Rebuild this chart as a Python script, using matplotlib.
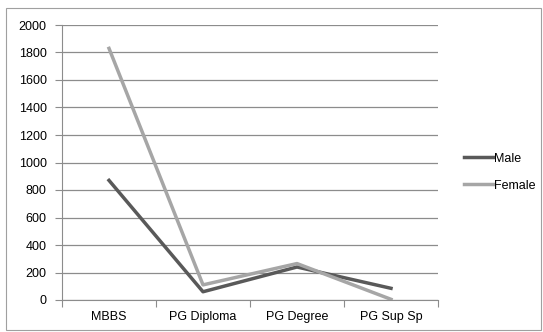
import matplotlib.pyplot as plt
from matplotlib.patches import Rectangle

categories = ["MBBS", "PG Diploma", "PG Degree", "PG Sup Sp"]
male = [870, 60, 240, 85]
female = [1830, 110, 265, 5]

plt.rcParams['font.family'] = ['Liberation Sans', 'DejaVu Sans']

fig = plt.figure(figsize=(5.43, 3.32), dpi=100)
fig.patches.append(Rectangle((0.011, 0.006), 0.985, 0.97, transform=fig.transFigure,
                             fill=False, edgecolor='#a0a0a0', linewidth=0.8))
ax = fig.add_axes([62 / 543, 32 / 332, 376 / 543, 275 / 332])

x = [0.5, 1.5, 2.5, 3.5]
ax.plot(x, male, color='#595959', linewidth=2.5, label='Male')
ax.plot(x, female, color='#a6a6a6', linewidth=2.5, label='Female')

ax.set_xlim(0, 4)
ax.set_ylim(0, 2000)
ax.set_yticks(range(0, 2001, 200))
ax.yaxis.grid(True, color='#8c8c8c', linewidth=0.9)
ax.set_axisbelow(True)

ax.set_xticks([0, 1, 2, 3, 4])
ax.set_xticklabels([])
ax.set_xticks(x, minor=True)
ax.set_xticklabels(categories, minor=True)
ax.tick_params(axis='x', which='minor', length=0, pad=8, labelsize=9)
ax.tick_params(axis='x', which='major', length=5, direction='out', color='#8c8c8c')
ax.tick_params(axis='y', length=5, color='#8c8c8c', labelsize=9, pad=6)

for s in ['top', 'right']:
    ax.spines[s].set_visible(False)
for s in ['left', 'bottom']:
    ax.spines[s].set_color('#8c8c8c')

ax.legend(loc='center left', bbox_to_anchor=(1.04, 0.465), frameon=False,
          fontsize=9, handlelength=2.3, handletextpad=0.1, labelspacing=1.2)

fig.savefig('out.png', dpi=100)
